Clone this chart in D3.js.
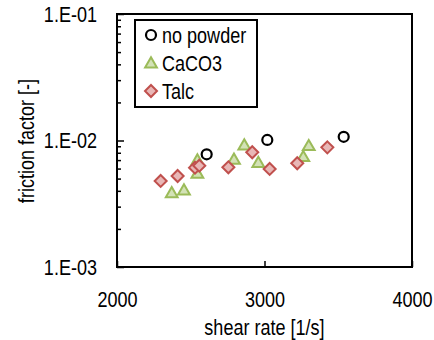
<!DOCTYPE html>
<html>
<head>
<meta charset="utf-8">
<script src="https://cdn.jsdelivr.net/npm/d3@7"></script>
<style>
  body { margin: 0; background: #fff; }
  svg text { font-family: "Liberation Sans", Arial, sans-serif; fill: #000; }
</style>
</head>
<body>
<div id="chart"></div>
<script>
// donnees
const noPowderX = [2608, 3019, 3537]
const noPowderY = [0.00778, 0.0101, 0.0107]

const caco3X = [2371, 2454, 2545, 2545, 2793, 2863, 2958, 3263, 3300]
const caco3Y = [0.00386, 0.00406, 0.00551, 0.00701, 0.00710, 0.00920, 0.00669, 0.00745, 0.00910]

const talcX = [2296, 2411, 2529, 2558, 2755, 2917, 3035, 3222, 3426]
const talcY = [0.00479, 0.00524, 0.00610, 0.00632, 0.00614, 0.00807, 0.00596, 0.00661, 0.00883]

const xTicks = [2000, 3000, 4000]
const yTicks = [0.001, 0.01, 0.1]
const seriesNames = ["no powder", "CaCO3", "Talc"]

const W = 434, H = 340
const pLeft = 117, pRight = 412, pTop = 14, pBottom = 267
const fs = "22px"
const k = 0.82 // police etroite (Arial Narrow) simulee

const svg = d3.select("#chart").append("svg")
    .attr("width", W)
    .attr("height", H)

const x = d3.scaleLinear().domain([2000, 4000]).range([pLeft, pRight])
const y = d3.scaleLog().domain([0.001, 0.1]).range([pBottom, pTop])

// compresser le texte horizontalement
function squeeze(sel) {
    sel.each(function () {
        var t = d3.select(this)
        var tx = +(t.attr("x") || 0)
        t.attr("x", tx / k).attr("transform", `scale(${k},1)`)
    })
}

// petites graduations log
var minor = []
yTicks.slice(0, 2).forEach(function (d) {
    for (var i = 2; i <= 9; i++) minor.push(d * i)
})

svg.append("g")
    .attr("transform", `translate(${pLeft},0)`)
    .call(d3.axisLeft(y).tickValues(minor).tickSize(-4).tickSizeOuter(0).tickFormat(""))
    .call(g => g.select(".domain").remove())
    .selectAll("line").attr("stroke", "#000").attr("stroke-width", 1.5)

svg.append("g")
    .attr("transform", `translate(${pLeft},0)`)
    .call(d3.axisLeft(y).tickValues(yTicks).tickSize(-7).tickSizeOuter(0).tickPadding(20)
        .tickFormat(d => "1.E-" + d3.format("02d")(Math.round(-Math.log10(d)))))
    .call(g => g.select(".domain").remove())
    .call(g => g.selectAll("line").attr("stroke", "#000").attr("stroke-width", 1.5))
    .call(g => g.selectAll("text").style("font-size", fs).attr("font-family", null).call(squeeze))

svg.append("g")
    .attr("transform", `translate(0,${pBottom})`)
    .call(d3.axisBottom(x).tickValues(xTicks).tickSize(-6).tickSizeOuter(0).tickPadding(24).tickFormat(d3.format("d")))
    .call(g => g.select(".domain").remove())
    .call(g => g.selectAll("line").attr("stroke", "#000").attr("stroke-width", 1.5))
    .call(g => g.selectAll("text").style("font-size", fs).attr("font-family", null).call(squeeze))

// cadre
svg.append("rect")
    .attr("x", pLeft).attr("y", pTop)
    .attr("width", pRight - pLeft).attr("height", pBottom - pTop)
    .attr("fill", "none").attr("stroke", "#000").attr("stroke-width", 2)

// titres
svg.append("text")
    .attr("x", (pLeft + pRight) / 2).attr("y", 335)
    .attr("text-anchor", "middle")
    .style("font-size", fs)
    .text("shear rate [1/s]")
    .call(squeeze)

svg.append("text")
    .attr("transform", `translate(34,141) rotate(-90) scale(${k},1)`)
    .attr("text-anchor", "middle")
    .style("font-size", fs)
    .text("friction factor [-]")

// formes
const triangle = d3.symbol().type(d3.symbolTriangle).size(60)
const diamond = "M0,-6L6,0L0,6L-6,0Z"

function drawCircle(g, cx, cy) {
    g.append("circle").attr("cx", cx).attr("cy", cy).attr("r", 5)
        .attr("fill", "none").attr("stroke", "#000").attr("stroke-width", 2.2)
}
function drawTriangle(g, cx, cy) {
    g.append("path").attr("d", triangle()).attr("transform", `translate(${cx},${cy + 1})`)
        .attr("fill", "#D3E2B6").attr("stroke", "#9BBB59").attr("stroke-width", 2)
}
function drawDiamond(g, cx, cy) {
    g.append("path").attr("d", diamond).attr("transform", `translate(${cx},${cy})`)
        .attr("fill", "#E8B7B6").attr("stroke", "#C0504D").attr("stroke-width", 2)
}

const pts = svg.append("g")
noPowderX.forEach((d, i) => drawCircle(pts, x(d), y(noPowderY[i])))
caco3X.forEach((d, i) => drawTriangle(pts, x(d), y(caco3Y[i])))
talcX.forEach((d, i) => drawDiamond(pts, x(d), y(talcY[i])))

// legende
const leg = svg.append("g")
leg.append("rect")
    .attr("x", 135).attr("y", 20).attr("width", 122).attr("height", 87)
    .attr("fill", "#fff").attr("stroke", "#000").attr("stroke-width", 2)

const drawers = [drawCircle, drawTriangle, drawDiamond]
seriesNames.forEach(function (name, i) {
    var cy = 35 + i * 28
    drawers[i](leg, 151, cy)
    leg.append("text")
        .attr("x", 162).attr("y", cy + 8)
        .style("font-size", fs)
        .text(name)
        .call(squeeze)
})
</script>
</body>
</html>
